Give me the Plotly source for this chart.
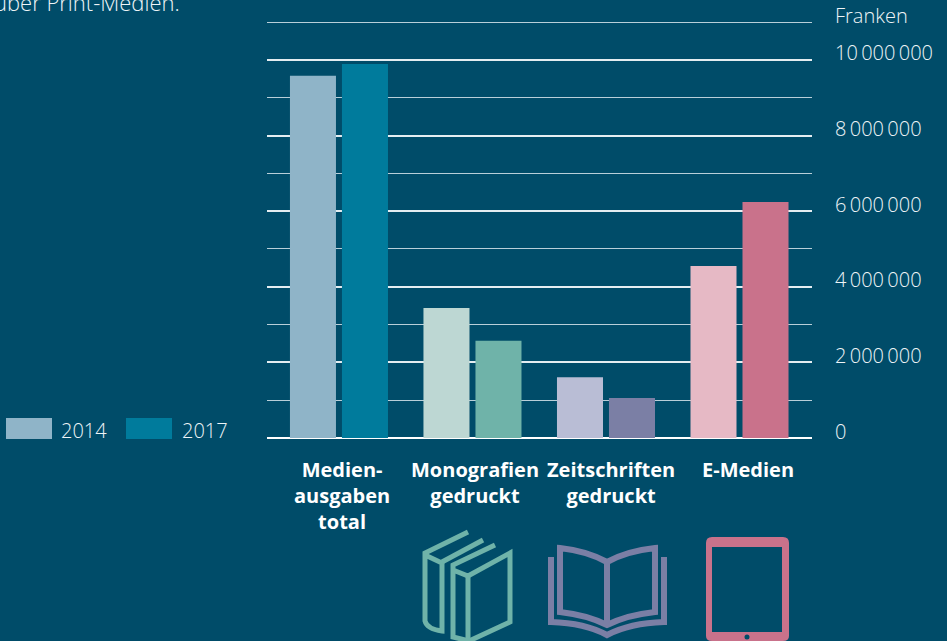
import plotly.graph_objects as go

BG = "#004C69"
FONT = "Open Sans"
TXT = "#EEF4F7"

categories = ["Medien-<br>ausgaben<br>total", "Monografien<br>gedruckt", "Zeitschriften<br>gedruckt", "E-Medien"]
values_2014 = [9.58e6, 3.44e6, 1.61e6, 4.55e6]
values_2017 = [9.89e6, 2.57e6, 1.06e6, 6.24e6]
colors_2014 = ["#8FB4C8", "#BDD7D3", "#B9BDD5", "#E6B9C5"]
colors_2017 = ["#007B9C", "#6FB3A9", "#7B7FA5", "#C9728B"]
series_names = ["2014", "2017"]
label_shift = [3, 3, 5, 8]
tick_values = [0, 2e6, 4e6, 6e6, 8e6, 10e6]
tick_labels = ["0", "2\u2009000\u2009000", "4\u2009000\u2009000", "6\u2009000\u2009000", "8\u2009000\u2009000", "10\u2009000\u2009000"]

W, H = 947, 641
L, R, T, B = 267, 812, 21, 438
def px(x): return (x - L) / (R - L)
def py(y): return (B - y) / (B - T)
def path(segments):
    out = []
    for s in segments:
        if isinstance(s, str):
            out.append(s)
        else:
            out.append(f"{px(s[0]):.5f},{py(s[1]):.5f}")
    return " ".join(out)

fig = go.Figure()
fig.add_bar(x=categories, y=values_2014, name=series_names[0], marker=dict(color=colors_2014, line_width=0), showlegend=False)
fig.add_bar(x=categories, y=values_2017, name=series_names[1], marker=dict(color=colors_2017, line_width=0), showlegend=False)

shapes = []
def stroke(segs, color, w):
    shapes.append(dict(type="path", xref="paper", yref="paper", path=path(segs), line=dict(color=color, width=w), fillcolor="rgba(0,0,0,0)", layer="above"))
def box(x0, y0, x1, y1, color):
    shapes.append(dict(type="rect", xref="paper", yref="paper", x0=px(x0), x1=px(x1), y0=py(y1), y1=py(y0), fillcolor=color, line_width=0, layer="above"))

# legend swatches
box(6, 418, 52, 439, colors_2014[0])
box(126, 418, 172, 439, colors_2017[0])

# books icon
G = colors_2017[1]
stroke(["M", (468, 532), "L", (425, 553), "L", (425, 621), "Q", (427, 629), (442, 631), "L", (442, 563), "L", (425, 555)], G, 5)
stroke(["M", (483, 540), "L", (442, 562)], G, 5)
stroke(["M", (495, 545), "L", (453, 565), "L", (453, 637), "L", (469, 641), "L", (510, 622), "L", (510, 553), "L", (468, 576), "L", (453, 570)], G, 5)
stroke(["M", (468, 576), "L", (468, 641)], G, 5)

# open book icon
P = colors_2017[2]
stroke(["M", (607, 562), "Q", (587, 551), (560, 548), "L", (560, 612), "Q", (587, 615), (607, 625), "Q", (627, 615), (655, 612), "L", (655, 548), "Q", (627, 551), (607, 562), "L", (607, 625)], P, 6)
stroke(["M", (551, 557), "L", (551, 622), "Q", (585, 623), (607, 635), "Q", (630, 623), (664, 622), "L", (664, 557)], P, 6)

# tablet icon
K = colors_2017[3]
shapes.append(dict(type="path", xref="paper", yref="paper", fillcolor=K, line_width=0, layer="above",
    path=path(["M", (712, 537), "L", (783, 537), "Q", (789, 537), (789, 543), "L", (789, 636), "Q", (789, 641), (783, 641), "L", (712, 641), "Q", (706, 641), (706, 636), "L", (706, 543), "Q", (706, 537), (712, 537), "Z"])))
box(712, 547, 782, 632, BG)
shapes.append(dict(type="circle", xref="paper", yref="paper", x0=px(744.5), x1=px(749.5), y0=py(639.5), y1=py(634.5), fillcolor=BG, line_width=0, layer="above"))

def note(text, x, y, xanchor="left", size=20, color=TXT):
    return dict(text=text, xref="paper", yref="paper", x=px(x), y=py(y), xanchor=xanchor, yanchor="middle",
                showarrow=False, font=dict(family=FONT, size=size, color=color, weight=300), align="left")

annotations = [
    note("über Print-Medien.", 182, 2, "right", size=22),
    note("Franken", 833, 15),
    note(series_names[0], 59, 430),
    note(series_names[1], 180, 430),
]
for v, t in zip(tick_values, tick_labels):
    annotations.append(dict(text=t, xref="paper", yref="y", x=px(833), y=v, yshift=7, xanchor="left", yanchor="middle",
                            showarrow=False, font=dict(family=FONT, size=20, color=TXT, weight=300)))
for c, s in zip(categories, label_shift):
    annotations.append(dict(text=c, xref="x", yref="paper", x=c, xshift=s, y=py(454), yanchor="top", xanchor="center",
                            showarrow=False, align="center", font=dict(family=FONT, size=20, color="#FFFFFF", weight=700)))

fig.update_layout(
    width=W, height=H, autosize=False,
    margin=dict(l=L, r=W - R, t=T, b=H - B, pad=0),
    paper_bgcolor=BG, plot_bgcolor=BG,
    barmode="group", bargap=0.221, bargroupgap=0.115,
    shapes=shapes, annotations=annotations,
    font=dict(family=FONT, color=TXT),
    xaxis=dict(type="category", range=[-0.539, 3.543], showgrid=False, zeroline=False, showline=False, ticks="",
               showticklabels=False),
    yaxis=dict(side="right", range=[0, 11.03e6], dtick=2e6, showgrid=True, showticklabels=False,
               gridcolor="#E4EDF1", gridwidth=2, zeroline=True, zerolinecolor="#FFFFFF", zerolinewidth=2,
               showline=False, ticks="",
               minor=dict(dtick=1e6, showgrid=True, gridcolor="#B9CFD9", gridwidth=1, ticks="")),
)

fig.write_html("out.html", config={"displayModeBar": False},
               post_script="document.body.style.margin='0';document.body.style.overflow='hidden';")
